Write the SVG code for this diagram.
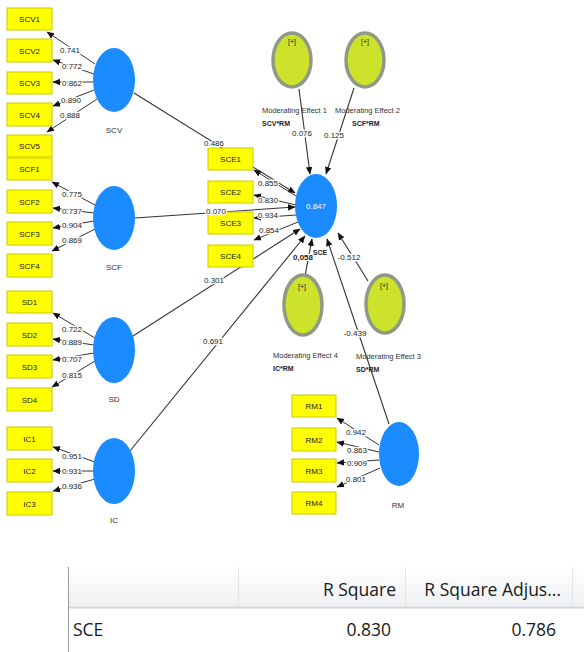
<svg xmlns="http://www.w3.org/2000/svg" width="584" height="652" viewBox="0 0 584 652">
<defs>
<marker id="ah" markerWidth="8" markerHeight="8" refX="7" refY="4" orient="auto" markerUnits="userSpaceOnUse">
<path d="M0,0.8 L7.5,4 L0,7.2 Z" fill="#111"/>
</marker>
<linearGradient id="hg" x1="0" y1="0" x2="0" y2="1">
<stop offset="0" stop-color="#ffffff"/>
<stop offset="1" stop-color="#eef0f2"/>
</linearGradient>
</defs>
<style>
.box{fill:#ffff00;stroke:#c9c900;stroke-width:1}
.lat{fill:#1a8cff}
.mod{fill:#cde22b;stroke:#8f9a86;stroke-width:3.5}
.bt{font-family:"Liberation Sans",Arial,sans-serif;font-size:8px;fill:#222;text-anchor:middle}
.lt{font-family:"Liberation Sans",Arial,sans-serif;font-size:8px;fill:#222;text-anchor:middle;paint-order:stroke;stroke:#fff;stroke-width:2.5}
.nm{font-family:"Liberation Sans",Arial,sans-serif;font-size:8px;fill:#333;text-anchor:middle}
.ml{font-family:"Liberation Sans",Arial,sans-serif;font-size:7.5px;fill:#333}
.mb{font-family:"Liberation Sans",Arial,sans-serif;font-size:7px;fill:#222;font-weight:bold}
.c{stroke:#333;stroke-width:1;fill:none;marker-end:url(#ah)}
.p{stroke:#333;stroke-width:1.1;fill:none}
.tt{font-family:"Open Sans","Noto Sans",sans-serif;font-size:17.5px;fill:#1a1a1a}
</style>

<!-- structural paths under boxes -->
<g id="connectors">
<line class="p" x1="134" y1="93" x2="295" y2="193" marker-end="url(#ah)"/>
<line class="p" x1="135" y1="218" x2="295" y2="207" marker-end="url(#ah)"/>
<line class="p" x1="133" y1="336" x2="300" y2="229" marker-end="url(#ah)"/>
<line class="p" x1="130" y1="451" x2="305" y2="236" marker-end="url(#ah)"/>
<line class="p" x1="299" y1="89" x2="310" y2="174" marker-end="url(#ah)"/>
<line class="p" x1="354" y1="88" x2="326" y2="174" marker-end="url(#ah)"/>
<line class="p" x1="305" y1="276" x2="312" y2="239" marker-end="url(#ah)"/>
<line class="p" x1="368" y1="281" x2="338" y2="233" marker-end="url(#ah)"/>
<line class="p" x1="389" y1="424" x2="327" y2="239" marker-end="url(#ah)"/>
<!-- SCV loadings -->
<line class="c" x1="95" y1="64" x2="47" y2="32"/>
<line class="c" x1="94" y1="74" x2="53" y2="60"/>
<line class="c" x1="93" y1="82" x2="53" y2="82"/>
<line class="c" x1="94" y1="90" x2="53" y2="106"/>
<line class="c" x1="97" y1="99" x2="47" y2="132"/>
<!-- SCF loadings -->
<line class="c" x1="95" y1="205" x2="52" y2="182"/>
<line class="c" x1="94" y1="213" x2="53" y2="208"/>
<line class="c" x1="94" y1="221" x2="53" y2="228"/>
<line class="c" x1="95" y1="229" x2="52" y2="251"/>
<!-- SD loadings -->
<line class="c" x1="95" y1="338" x2="53" y2="313"/>
<line class="c" x1="94" y1="345" x2="53" y2="339"/>
<line class="c" x1="94" y1="353" x2="53" y2="360"/>
<line class="c" x1="95" y1="361" x2="52" y2="387"/>
<!-- IC loadings -->
<line class="c" x1="95" y1="462" x2="53" y2="447"/>
<line class="c" x1="94" y1="471" x2="53" y2="471"/>
<line class="c" x1="95" y1="479" x2="53" y2="491"/>
<!-- SCE loadings -->
<line class="c" x1="296" y1="196" x2="254" y2="170"/>
<line class="c" x1="296" y1="205" x2="254" y2="195"/>
<line class="c" x1="296" y1="215" x2="254" y2="218"/>
<line class="c" x1="298" y1="222" x2="254" y2="240"/>
<!-- RM loadings -->
<line class="c" x1="379" y1="445" x2="337" y2="418"/>
<line class="c" x1="379" y1="452" x2="337" y2="442"/>
<line class="c" x1="379" y1="460" x2="337" y2="463"/>
<line class="c" x1="380" y1="468" x2="337" y2="487"/>
</g>

<!-- indicator boxes -->
<g id="SCV1"><rect class="box" x="7" y="8" width="45" height="22"/><text class="bt" x="29.5" y="22">SCV1</text></g>
<g id="SCV2"><rect class="box" x="7" y="39" width="45" height="23"/><text class="bt" x="29.5" y="53.5">SCV2</text></g>
<g id="SCV3"><rect class="box" x="7" y="72" width="45" height="22"/><text class="bt" x="29.5" y="86">SCV3</text></g>
<g id="SCV4"><rect class="box" x="7" y="103" width="45" height="23"/><text class="bt" x="29.5" y="117.5">SCV4</text></g>
<g id="SCV5"><rect class="box" x="7" y="135" width="45" height="22"/><text class="bt" x="29.5" y="149">SCV5</text></g>
<g id="SCF1"><rect class="box" x="7" y="158" width="45" height="22"/><text class="bt" x="29.5" y="172">SCF1</text></g>
<g id="SCF2"><rect class="box" x="7" y="190" width="45" height="23"/><text class="bt" x="29.5" y="204.5">SCF2</text></g>
<g id="SCF3"><rect class="box" x="7" y="222" width="45" height="23"/><text class="bt" x="29.5" y="236.5">SCF3</text></g>
<g id="SCF4"><rect class="box" x="7" y="254" width="45" height="23"/><text class="bt" x="29.5" y="268.5">SCF4</text></g>
<g id="SD1"><rect class="box" x="7" y="291" width="45" height="22"/><text class="bt" x="29.5" y="305">SD1</text></g>
<g id="SD2"><rect class="box" x="7" y="323" width="45" height="23"/><text class="bt" x="29.5" y="337.5">SD2</text></g>
<g id="SD3"><rect class="box" x="7" y="355" width="45" height="23"/><text class="bt" x="29.5" y="369.5">SD3</text></g>
<g id="SD4"><rect class="box" x="7" y="388" width="45" height="23"/><text class="bt" x="29.5" y="402.5">SD4</text></g>
<g id="IC1"><rect class="box" x="7" y="427" width="45" height="23"/><text class="bt" x="29.5" y="441.5">IC1</text></g>
<g id="IC2"><rect class="box" x="7" y="459" width="45" height="23"/><text class="bt" x="29.5" y="473.5">IC2</text></g>
<g id="IC3"><rect class="box" x="7" y="492" width="45" height="23"/><text class="bt" x="29.5" y="506.5">IC3</text></g>
<g id="SCE1"><rect class="box" x="208" y="148" width="45" height="22"/><text class="bt" x="230.5" y="162">SCE1</text></g>
<g id="SCE2"><rect class="box" x="208" y="181" width="45" height="22"/><text class="bt" x="230.5" y="195">SCE2</text></g>
<g id="SCE3"><rect class="box" x="208" y="212" width="45" height="22"/><text class="bt" x="230.5" y="226">SCE3</text></g>
<g id="SCE4"><rect class="box" x="208" y="245" width="45" height="22"/><text class="bt" x="230.5" y="259">SCE4</text></g>
<g id="RM1"><rect class="box" x="292" y="395" width="44" height="22"/><text class="bt" x="314" y="409">RM1</text></g>
<g id="RM2"><rect class="box" x="292" y="428" width="44" height="23"/><text class="bt" x="314" y="442.5">RM2</text></g>
<g id="RM3"><rect class="box" x="292" y="459" width="44" height="23"/><text class="bt" x="314" y="473.5">RM3</text></g>
<g id="RM4"><rect class="box" x="292" y="492" width="44" height="22"/><text class="bt" x="314" y="506">RM4</text></g>

<!-- latent variables -->
<g id="SCV"><ellipse class="lat" cx="114" cy="80" rx="21" ry="32"/><text class="nm" x="114" y="133">SCV</text></g>
<g id="SCF"><ellipse class="lat" cx="114" cy="218" rx="21" ry="32"/><text class="nm" x="114" y="270">SCF</text></g>
<g id="SD"><ellipse class="lat" cx="114" cy="350" rx="21" ry="33"/><text class="nm" x="114" y="402">SD</text></g>
<g id="IC"><ellipse class="lat" cx="114" cy="471" rx="21" ry="33"/><text class="nm" x="114" y="523">IC</text></g>
<g id="SCE"><ellipse class="lat" cx="316" cy="206" rx="21" ry="32"/><text class="nm" x="316" y="209" style="fill:#fff">0.847</text><text class="mb" x="320" y="255" text-anchor="middle">SCE</text></g>
<g id="RM"><ellipse class="lat" cx="399" cy="454" rx="20" ry="32"/><text class="nm" x="398" y="508">RM</text></g>

<!-- moderating effects -->
<g id="ME1"><ellipse class="mod" cx="292" cy="60" rx="19" ry="27"/><text class="bt" x="292" y="44" style="font-size:7px">[+]</text><text class="ml" x="262" y="113">Moderating Effect 1</text><text class="mb" x="262" y="126">SCV*RM</text></g>
<g id="ME2"><ellipse class="mod" cx="365" cy="60" rx="19" ry="27"/><text class="bt" x="365" y="44" style="font-size:7px">[+]</text><text class="ml" x="335" y="113">Moderating Effect 2</text><text class="mb" x="352" y="126">SCF*RM</text></g>
<g id="ME4"><ellipse class="mod" cx="303" cy="305" rx="19" ry="30"/><text class="bt" x="302" y="289" style="font-size:7px">[+]</text><text class="ml" x="273" y="358">Moderating Effect 4</text><text class="mb" x="273" y="371">IC*RM</text></g>
<g id="ME3"><ellipse class="mod" cx="385" cy="304" rx="19" ry="29"/><text class="bt" x="384" y="288" style="font-size:7px">[+]</text><text class="ml" x="356" y="359">Moderating Effect 3</text><text class="mb" x="356" y="372">SD*RM</text></g>

<!-- path labels -->
<g id="labels">
<text class="lt" x="70" y="53">0.741</text>
<text class="lt" x="72" y="69">0.772</text>
<text class="lt" x="72" y="86">0.862</text>
<text class="lt" x="71" y="103">0.890</text>
<text class="lt" x="70" y="118">0.888</text>
<text class="lt" x="72" y="197">0.775</text>
<text class="lt" x="72" y="214">0.737</text>
<text class="lt" x="72" y="228">0.904</text>
<text class="lt" x="72" y="243">0.869</text>
<text class="lt" x="72" y="332">0.722</text>
<text class="lt" x="72" y="345">0.889</text>
<text class="lt" x="72" y="362">0.707</text>
<text class="lt" x="72" y="378">0.815</text>
<text class="lt" x="72" y="459">0.951</text>
<text class="lt" x="72" y="474">0.931</text>
<text class="lt" x="72" y="489">0.936</text>
<text class="lt" x="268" y="186">0.855</text>
<text class="lt" x="268" y="203">0.830</text>
<text class="lt" x="268" y="218">0.934</text>
<text class="lt" x="269" y="233">0.854</text>
<text class="lt" x="356" y="435">0.942</text>
<text class="lt" x="357" y="453">0.863</text>
<text class="lt" x="357" y="466">0.909</text>
<text class="lt" x="356" y="482">0.801</text>
<text class="lt" x="214" y="146">0.486</text>
<text class="lt" x="216" y="214">0.070</text>
<text class="lt" x="214" y="283">0.301</text>
<text class="lt" x="213" y="344">0.691</text>
<text class="lt" x="302" y="136">0.076</text>
<text class="lt" x="334" y="138">0.125</text>
<text class="lt" x="303" y="260" style="font-weight:bold">0,058</text>
<text class="lt" x="349" y="260">-0.512</text>
<text class="lt" x="355" y="336">-0.439</text>
</g>

<!-- R square table -->
<g id="table">
<rect x="69" y="567" width="515" height="40" fill="url(#hg)"/>
<line x1="69" y1="607.5" x2="584" y2="607.5" stroke="#d3d9e0" stroke-width="2"/>
<line x1="238.5" y1="567" x2="238.5" y2="606" stroke="#e2e4e6"/>
<line x1="405.5" y1="567" x2="405.5" y2="606" stroke="#e2e4e6"/>
<line x1="572.5" y1="567" x2="572.5" y2="606" stroke="#e2e4e6"/>
<line x1="68.5" y1="567" x2="68.5" y2="652" stroke="#9a9a9a" stroke-width="1"/>
<text class="tt" x="396" y="596" text-anchor="end">R Square</text>
<text class="tt" x="561" y="596" text-anchor="end">R Square Adjus...</text>
<text class="tt" x="73" y="636">SCE</text>
<text class="tt" x="391" y="636" text-anchor="end">0.830</text>
<text class="tt" x="556" y="636" text-anchor="end">0.786</text>
</g>
</svg>
